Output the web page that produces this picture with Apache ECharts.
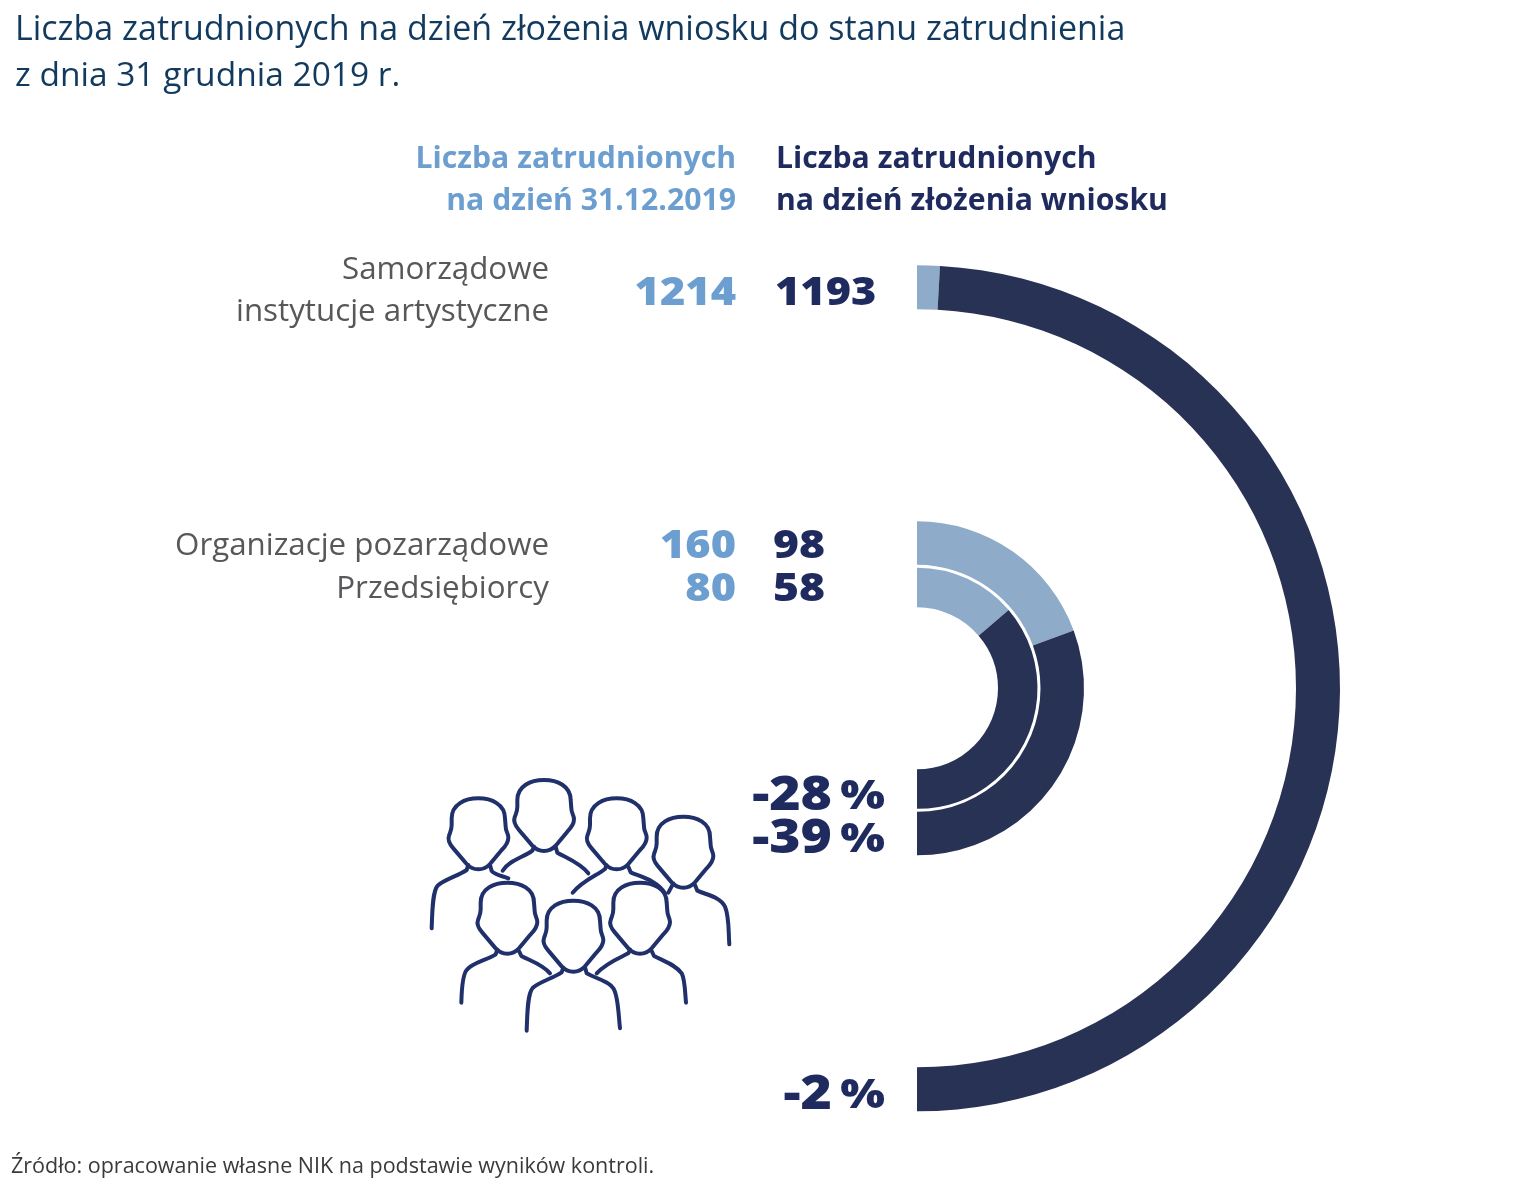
<!DOCTYPE html>
<html><head><meta charset="utf-8">
<style>html,body{margin:0;padding:0;background:#fff}#c{width:1520px;height:1188px}</style>
<script src="https://cdn.jsdelivr.net/npm/echarts@6/dist/echarts.min.js"></script>
</head><body><div id="c"></div>
<script>
var categories = ['Samorządowe\ninstytucje artystyczne', 'Organizacje pozarządowe', 'Przedsiębiorcy'];
var employedDec2019 = [1214, 160, 80];
var employedAtApplication = [1193, 98, 58];
var changePercent = [-2, -39, -28];
var headerLight = 'Liczba zatrudnionych\nna dzień 31.12.2019';
var headerDark = 'Liczba zatrudnionych\nna dzień złożenia wniosku';
var titleLines = ['Liczba zatrudnionych na dzień złożenia wniosku do stanu zatrudnienia', 'z dnia 31 grudnia 2019 r.'];
var sourceText = 'Źródło: opracowanie własne NIK na podstawie wyników kontroli.';

var FONT = '"Open Sans", sans-serif';
var C_LIGHT_TXT = '#6c9fd0', C_DARK_TXT = '#1f2b5e', C_GREY = '#58585a', C_TITLE = '#113a5e';
var C_RING_LIGHT = '#8fabca', C_RING_DARK = '#283254';
var radii = [[379, 423], [123.5, 167], [81, 120.5]];

function ring(i) {
  return {
    type: 'pie', center: [917, 688.3], radius: radii[i], startAngle: 90, endAngle: -90,
    clockwise: true, silent: true, label: {show: false}, labelLine: {show: false}, animation: false,
    data: [
      {value: employedDec2019[i] - employedAtApplication[i], itemStyle: {color: C_RING_LIGHT}},
      {value: employedAtApplication[i], itemStyle: {color: C_RING_DARK}}
    ]
  };
}

function txt(x, y, text, size, color, weight, align, lh, sx) {
  return {type: 'text', x: x, y: y, scaleX: sx || 1, silent: true, style: {
    text: text, fontFamily: FONT, fontSize: size, fontWeight: weight || 400,
    fill: color, align: align || 'left', verticalAlign: 'middle', lineHeight: lh || size * 1.3
  }};
}

// People icon (decorative outline), drawn in a 3x local unit and scaled down.
var HEAD = 'M0,213C-15,213-25,208-35,197L-75,150C-88,135-93,125-88,112C-84,100-80,95-80,80L-80,60C-80,18-40,0 0,0C40,0 80,18 80,60L82,85C82,100 90,105 90,118C90,135 75,150 70,155L35,197C25,208 15,213 0,213Z';
var LS = {
  full: 'M-30,200L-35,215C-60,232-105,245-122,262C-138,280-138,340-140,390',
  mid: 'M-30,200L-35,215C-60,232-105,240-122,262C-133,275-137,320-138,360',
  cutB: 'M-30,200L-35,212C-60,232-105,240-124,272',
  cutC: 'M-30,200L-35,212C-60,232-100,245-132,283',
  cutG: 'M-30,200L-35,212C-60,225-100,240-130,272',
  cutD: 'M-30,200L-45,228'
};
var RS = {
  full: 'M35,200L40,218C70,235 105,240 120,263C135,285 135,340 140,383',
  mid: 'M35,205L42,220C70,235 105,245 125,272C135,290 135,330 138,360',
  endD: 'M35,205L42,222C70,235 110,240 125,270C138,300 135,345 138,383',
  cutA: 'M35,200L40,218C50,230 70,232 90,240',
  cutB: 'M35,200L40,218C70,235 110,250 133,280',
  cutC: 'M35,205L42,222C70,235 120,245 145,285',
  cutE: 'M35,205L42,220C70,235 105,245 128,272'
};
var people = [
  [175, 85, LS.full, RS.cutA], [372, 30, LS.cutB, RS.cutB], [590, 85, LS.cutC, RS.cutC],
  [790, 140, LS.cutD, RS.endD], [262, 338, LS.mid, RS.cutE], [460, 392, LS.full, RS.full],
  [660, 338, LS.cutG, RS.mid]
];
var iconSeries = {
  type: 'custom', coordinateSystem: 'none', silent: true, animation: false,
  data: people.map(function (p, i) { return [i]; }),
  renderItem: function (params) {
    var p = people[params.dataIndex];
    return {type: 'path', x: 420 + p[0] / 3, y: 770 + p[1] / 3, scaleX: 1 / 3, scaleY: 1 / 3,
      shape: {pathData: HEAD + p[2] + p[3]},
      style: {fill: 'none', stroke: '#20306a', lineWidth: 12, lineCap: 'round', lineJoin: 'round'}};
  }
};

var NUM_SX = 1.11, PCT_SX = 1.14, SIGN_SX = 1.18;
var texts = [
  txt(15, 30, titleLines[0], 34, C_TITLE),
  txt(15, 76, titleLines[1], 33.5, C_TITLE),
  txt(736, 180, headerLight, 30.2, C_LIGHT_TXT, 700, 'right', 42),
  txt(776, 180, headerDark, 30.2, C_DARK_TXT, 700, 'left', 42),
  txt(549, 291, categories[0], 31.3, C_GREY, 400, 'right', 42),
  txt(549, 546, categories[1], 31.3, C_GREY, 400, 'right'),
  txt(549, 589, categories[2], 31.3, C_GREY, 400, 'right'),
  txt(736, 294, String(employedDec2019[0]), 39, C_LIGHT_TXT, 800, 'right', 0, NUM_SX),
  txt(775, 294, String(employedAtApplication[0]), 39, C_DARK_TXT, 800, 'left', 0, NUM_SX),
  txt(736, 547, String(employedDec2019[1]), 39, C_LIGHT_TXT, 800, 'right', 0, NUM_SX),
  txt(773, 547, String(employedAtApplication[1]), 39, C_DARK_TXT, 800, 'left', 0, 1.14),
  txt(736, 590, String(employedDec2019[2]), 39, C_LIGHT_TXT, 800, 'right', 0, NUM_SX),
  txt(773, 590, String(employedAtApplication[2]), 39, C_DARK_TXT, 800, 'left', 0, 1.14),
  txt(832, 797, String(changePercent[2]), 47, C_DARK_TXT, 800, 'right', 0, PCT_SX),
  txt(832, 840, String(changePercent[1]), 47, C_DARK_TXT, 800, 'right', 0, PCT_SX),
  txt(832, 1096, String(changePercent[0]), 47, C_DARK_TXT, 800, 'right', 0, PCT_SX),
  txt(885, 798, '%', 40, C_DARK_TXT, 800, 'right', 0, SIGN_SX),
  txt(885, 841, '%', 40, C_DARK_TXT, 800, 'right', 0, SIGN_SX),
  txt(885, 1097, '%', 40, C_DARK_TXT, 800, 'right', 0, SIGN_SX),
  txt(11, 1167, sourceText, 21.5, '#3a3a3c')
];

var chart = echarts.init(document.getElementById('c'), null, {renderer: 'canvas'});
chart.setOption({
  backgroundColor: '#ffffff',
  animation: false,
  series: [ring(0), ring(1), ring(2), iconSeries],
  graphic: {elements: texts}
});
</script></body></html>
